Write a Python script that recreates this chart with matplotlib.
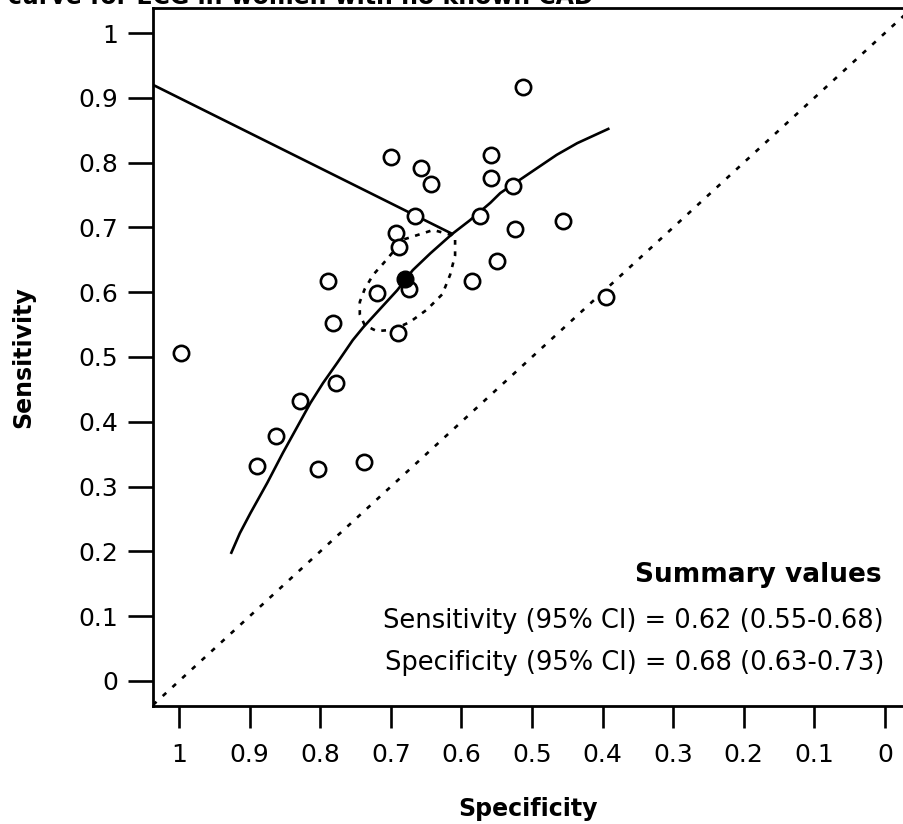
import matplotlib
matplotlib.use("Agg")
import matplotlib.pyplot as plt

plt.rcParams['font.family'] = ['DejaVu Sans']

# study points (specificity, sensitivity)
study_spec = [0.997, 0.513, 0.700, 0.558, 0.657, 0.643, 0.558, 0.527, 0.666, 0.574,
              0.456, 0.524, 0.693, 0.688, 0.789, 0.585, 0.550, 0.720, 0.675, 0.782,
              0.690, 0.395, 0.778, 0.829, 0.863, 0.890, 0.803, 0.738]
study_sens = [0.506, 0.917, 0.809, 0.812, 0.792, 0.767, 0.776, 0.764, 0.718, 0.718,
              0.710, 0.698, 0.691, 0.670, 0.617, 0.617, 0.648, 0.599, 0.605, 0.552,
              0.537, 0.593, 0.460, 0.432, 0.378, 0.332, 0.327, 0.338]

# summary point
summ_spec = 0.68
summ_sens = 0.62

# SROC curve
curve_spec = [0.926, 0.914, 0.899, 0.875, 0.853, 0.814, 0.796, 0.776, 0.754, 0.739,
              0.691, 0.669, 0.644, 0.613, 0.588, 0.559, 0.545, 0.503, 0.465, 0.436, 0.392]
curve_sens = [0.198, 0.228, 0.259, 0.306, 0.352, 0.429, 0.460, 0.491, 0.526, 0.546,
              0.603, 0.634, 0.660, 0.690, 0.711, 0.738, 0.753, 0.784, 0.812, 0.830, 0.852]

# 95% confidence region
ci_spec = [0.613, 0.640, 0.683, 0.697, 0.711, 0.725, 0.737, 0.744, 0.744, 0.737,
           0.720, 0.697, 0.673, 0.649, 0.627, 0.616, 0.609, 0.609, 0.613]
ci_sens = [0.688, 0.696, 0.681, 0.662, 0.644, 0.627, 0.605, 0.585, 0.566, 0.549,
           0.540, 0.542, 0.554, 0.573, 0.597, 0.627, 0.657, 0.681, 0.688]

# straight line from the left edge to the curve
seg_spec = [1.037, 0.613]
seg_sens = [0.920, 0.690]

ticks = [1, 0.9, 0.8, 0.7, 0.6, 0.5, 0.4, 0.3, 0.2, 0.1, 0]
tick_labels = ['1', '0.9', '0.8', '0.7', '0.6', '0.5', '0.4', '0.3', '0.2', '0.1', '0']

summary_lines = ['Sensitivity (95% CI) = 0.62 (0.55-0.68)',
                 'Specificity (95% CI) = 0.68 (0.63-0.73)']


def main():
    fig = plt.figure(figsize=(9.04, 8.24), dpi=100)
    ax = fig.add_axes([153 / 904, 118 / 824, 751 / 904, 698 / 824])

    ax.set_xlim(1.037, -0.027)
    ax.set_ylim(-0.0386, 1.0386)

    # chance line
    ax.plot([1.037, -0.027], [1 - 1.037, 1 + 0.027], color='black', lw=1.9,
            linestyle=(0, (1.8, 3.2)))

    ax.plot(seg_spec, seg_sens, color='black', lw=1.9)
    ax.plot(curve_spec, curve_sens, color='black', lw=1.9)
    ax.plot(ci_spec, ci_sens, color='black', lw=1.9, linestyle=(0, (1.8, 2.5)))

    ax.plot(study_spec, study_sens, 'o', mfc='white', mec='black', ms=11, mew=1.9,
            linestyle='none', zorder=3)
    ax.plot([summ_spec], [summ_sens], 'o', color='black', ms=12, zorder=4)

    ax.set_xticks(ticks)
    ax.set_xticklabels(tick_labels)
    ax.set_yticks(ticks)
    ax.set_yticklabels(tick_labels)

    ax.spines['right'].set_visible(False)
    for s in ['left', 'bottom', 'top']:
        ax.spines[s].set_linewidth(2)

    ax.tick_params(axis='y', length=18, width=1.9, pad=7, labelsize=18)
    ax.tick_params(axis='x', length=16, width=1.9, pad=11, labelsize=18)

    ax.set_xlabel('Specificity', fontsize=17, fontweight='bold', labelpad=21)
    ax.set_ylabel('Sensitivity', fontsize=17, fontweight='bold', labelpad=31)

    fig.text(882 / 904, 1 - 575 / 824, 'Summary values', ha='right', va='center',
             fontsize=19, fontweight='bold')
    fig.text(884 / 904, 1 - 621 / 824, summary_lines[0], ha='right', va='center',
             fontsize=18.5)
    fig.text(884 / 904, 1 - 663 / 824, summary_lines[1], ha='right', va='center',
             fontsize=18.5)

    fig.text(594 / 904, 1 - 4 / 824, 'SROC curve for ECG in women with no known CAD',
             ha='right', va='baseline', fontsize=17, fontweight='bold')

    fig.savefig('out.png', dpi=100)


if __name__ == '__main__':
    main()
